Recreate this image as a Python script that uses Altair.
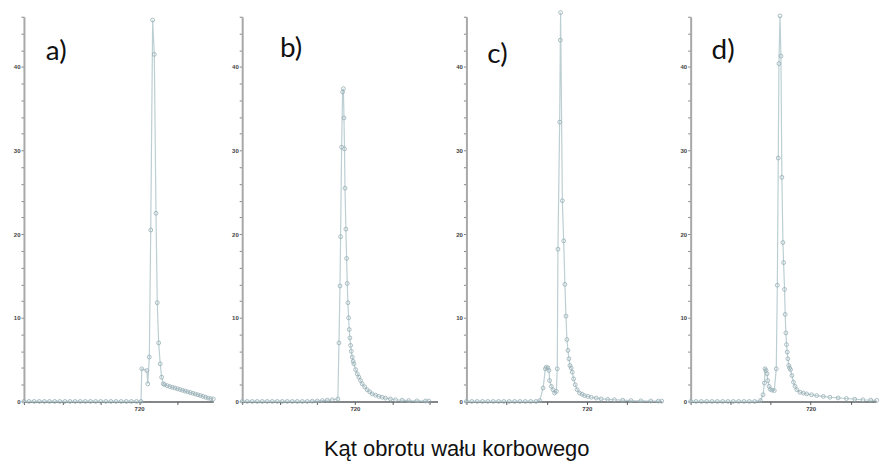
import altair as alt
import pandas as pd

# ---- data (crank angle [deg], value) ----
a_deg = [630, 634, 638, 642, 646, 650, 654, 658, 662, 666, 670, 674, 678, 682, 686, 690,
         694, 698, 702, 706, 710, 714, 718, 721.5,
         722.1, 726.0, 726.8, 728.0, 729.1, 730.6, 731.9, 733.2, 734.2, 735.3, 736.5, 737.6, 738.9,
         740, 742, 744, 746, 748, 750, 752, 754, 756, 758, 760, 762, 764, 766, 768, 770, 772,
         774, 776, 778]
a_val = [0, 0, 0, 0, 0, 0, 0, 0, 0, 0, 0, 0, 0, 0, 0, 0,
         0, 0, 0, 0, 0, 0, 0, 0,
         3.9, 3.7, 2.1, 5.3, 20.5, 45.6, 41.5, 22.5, 11.8, 7.0, 4.5, 2.9, 2.1,
         2.0, 1.88, 1.78, 1.69, 1.6, 1.51, 1.42, 1.33, 1.24, 1.15, 1.06, 0.97, 0.88, 0.79, 0.7,
         0.6, 0.5, 0.4, 0.33, 0.3]

b_deg = [630, 634, 638, 642, 646, 650, 654, 658, 662, 666, 670, 674, 678, 682, 686, 690,
         694, 698, 702, 706.4,
         707.3, 708.1, 708.6, 709.4, 710.2, 710.8, 711.3, 711.7, 712.1, 712.8, 713.4, 713.9,
         714.4, 715.0, 715.5, 716.0, 716.6, 717.1, 717.9, 718.6, 719.2, 720.6, 721.9, 723.2,
         724.5, 725.8, 727.8, 729.8, 731.8, 733.8, 736.5, 739.1, 741.8, 744.4, 748.4, 752.4,
         757.7, 763, 769.6, 776.3, 779]
b_val = [0, 0, 0, 0, 0, 0, 0, 0, 0, 0, 0, 0, 0, 0, 0.03, 0.05,
         0.1, 0.15, 0.2, 0.3,
         7.0, 13.8, 19.7, 30.4, 37.0, 37.4, 33.9, 30.2, 25.5, 20.6, 17.1, 14.1,
         11.8, 10.0, 8.6, 7.6, 6.7, 6.0, 5.3, 4.8, 4.5, 3.8, 3.3, 2.9,
         2.5, 2.1, 1.75, 1.4, 1.15, 0.9, 0.75, 0.6, 0.5, 0.4, 0.3, 0.2,
         0.15, 0.1, 0.07, 0.05, 0.04]

c_deg = [630, 634, 638, 642, 646, 650, 654, 658, 662, 666, 670, 674, 678, 682, 684.8,
         687.3, 689.0, 689.7, 691.0, 691.7, 692.2, 693.5, 694.7, 695.9, 697.2, 697.9, 698.4,
         699.7, 700.2, 700.4, 701.7, 702.7, 703.6, 704.4, 705.1, 705.9, 706.6, 707.4, 708.3,
         709.1, 710.1, 711.3, 712.8, 714.6, 716.5, 718.3, 720.8, 723.3, 727, 730.7, 735.6,
         740.6, 746.8, 753, 760.4, 767.8, 773.4, 776]
c_val = [0, 0, 0, 0, 0, 0, 0, 0, 0, 0, 0, 0, 0, 0, 0.1,
         1.6, 3.9, 4.1, 4.0, 3.7, 2.5, 1.8, 1.4, 1.0, 1.2, 3.9, 18.2,
         33.4, 43.2, 46.5, 24.0, 19.2, 14.0, 10.2, 7.4, 6.1, 5.1, 4.3, 4.0,
         3.5, 2.7, 2.0, 1.4, 1.0, 0.85, 0.7, 0.6, 0.5, 0.4, 0.3, 0.25,
         0.2, 0.15, 0.1, 0.07, 0.05, 0.04, 0.03]

d_deg = [630, 634, 638, 642, 646, 650, 654, 658, 662, 666, 670, 674, 678, 682.3,
         684.3, 685.3, 685.8, 686.5, 687.3, 687.8, 688.8, 689.7, 691.0, 692.7, 694.2, 695.0,
         695.7, 696.2, 697.0, 697.7, 698.4, 699.2, 699.7, 700.4, 700.9, 701.4, 701.9, 702.4,
         702.9, 703.6, 704.2, 704.9, 705.9, 707.1, 708.3, 709.6, 712.0, 714.5, 717.0, 720.7,
         724.5, 729.5, 734.4, 740.6, 746.8, 753, 759.2, 765, 769.5]
d_val = [0, 0, 0, 0, 0, 0, 0, 0, 0, 0, 0, 0, 0, 0.1,
         0.8, 2.2, 3.9, 3.7, 3.3, 2.5, 1.8, 1.45, 1.35, 1.3, 3.9, 13.9,
         29.1, 40.4, 46.1, 41.3, 26.8, 19.0, 16.6, 13.4, 10.4, 8.2, 6.8, 5.9,
         5.1, 4.3, 4.0, 3.8, 3.1, 2.3, 1.8, 1.4, 1.1, 1.0, 0.9, 0.8,
         0.7, 0.6, 0.5, 0.42, 0.35, 0.27, 0.2, 0.16, 0.13]

panel_labels = ["a)", "b)", "c)", "d)"]
x_ticks = [630, 660, 690, 720, 750, 780]
y_ticks = [0, 2, 4, 6, 8, 10, 12, 14, 16, 18, 20, 22, 24, 26, 28, 30, 32, 34, 36, 38, 40, 42, 44, 46]
x_title = "Kąt obrotu wału korbowego"

LINE = "#bccfd3"
MARK = "#96adb4"
H = 386


def panel(deg, val, label, width, xmax, lx, ly):
    df = pd.DataFrame({"deg": deg, "val": val})
    ticks = [t for t in x_ticks if t <= xmax]
    x = alt.X("deg:Q",
              scale=alt.Scale(domain=[630, xmax], nice=False, zero=False),
              axis=alt.Axis(values=ticks, title=None, grid=False,
                            labelExpr="datum.value == 720 ? '720' : ''",
                            labelFont="Liberation Sans", labelFontSize=6, labelFontWeight="bold",
                            labelColor="#444444", labelPadding=1, tickSize=3, tickColor="#555555",
                            domainColor="#5a5f62", domainWidth=1.5))
    y = alt.Y("val:Q",
              scale=alt.Scale(domain=[0, 46], nice=False),
              axis=alt.Axis(values=y_ticks, title=None, grid=False,
                            labelExpr="datum.value % 10 == 0 ? datum.label : ''",
                            labelFont="Liberation Sans", labelFontSize=6, labelFontWeight="bold",
                            labelColor="#444444", labelPadding=1, tickSize=3, tickColor="#888888",
                            domainColor="#a8a8a8", domainWidth=2))
    base = alt.Chart(df).encode(x=x, y=y)
    line = base.mark_line(color=LINE, strokeWidth=1.2)
    pts = base.mark_point(shape="circle", filled=False, size=15, stroke=MARK, strokeWidth=0.8, opacity=1)
    txt = alt.Chart(pd.DataFrame({"t": [label]})).mark_text(
        font="Lato", fontSize=28, align="left", baseline="alphabetic", color="#111111"
    ).encode(text="t:N", x=alt.value(lx), y=alt.value(ly))
    return alt.layer(line, pts, txt).properties(width=width, height=H)


pa = panel(a_deg, a_val, panel_labels[0], 190, 778, 22, 43)
pb = panel(b_deg, b_val, panel_labels[1], 196, 786, 38, 40)
pc = panel(c_deg, c_val, panel_labels[2], 196, 776, 21, 46)
pd_ = panel(d_deg, d_val, panel_labels[3], 186, 769, 21, 42)

chart = alt.hconcat(pa, pb, pc, pd_, spacing=29, bounds="flush").properties(
    title=alt.TitleParams(text=x_title, orient="bottom", anchor="middle",
                          font="Liberation Sans", fontSize=22, fontWeight="normal",
                          color="#111111", offset=28, dx=10),
    padding={"left": 5, "top": 0, "right": 0, "bottom": 0},
    background="white",
).configure_view(strokeWidth=0, stroke="transparent")

chart.save("out.html", embed_options={"renderer": "svg", "actions": False})
